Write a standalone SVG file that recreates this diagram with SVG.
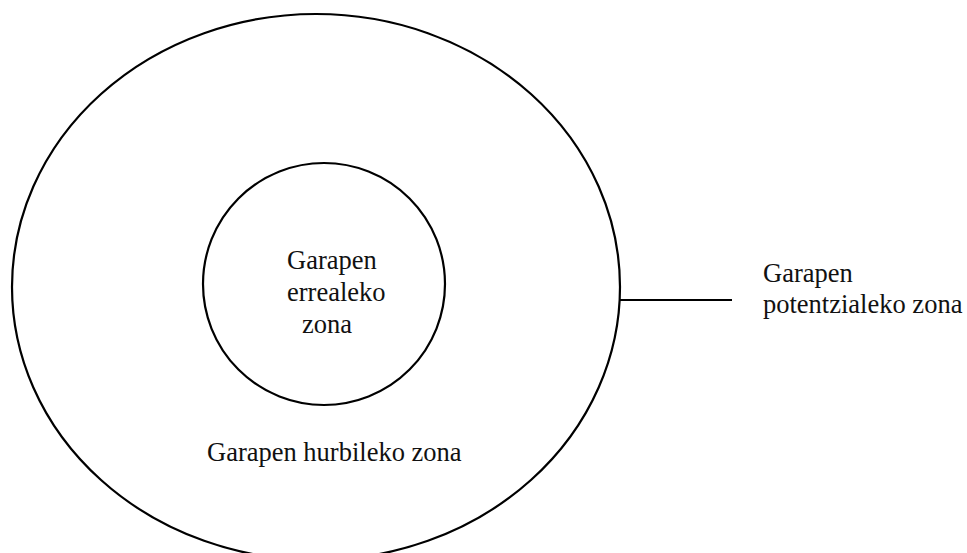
<svg xmlns="http://www.w3.org/2000/svg" width="967" height="553" viewBox="0 0 967 553">
<style>
.shape{fill:none;stroke:#000;stroke-width:2.2}
.t{font-family:"Liberation Serif","Times New Roman",serif;font-size:26.5px;fill:#111}
</style>
<rect width="967" height="553" fill="#fff"/>
<g id="outer">
<ellipse class="shape" cx="316" cy="287" rx="304" ry="273"/>
<text class="t" x="207" y="461">Garapen hurbileko zona</text>
</g>
<g id="inner">
<ellipse class="shape" cx="324" cy="284" rx="121" ry="121"/>
<text class="t" x="287" y="269">Garapen</text>
<text class="t" x="287" y="301">errealeko</text>
<text class="t" x="302" y="333">zona</text>
</g>
<g id="connectors">
<line class="shape" x1="620" y1="300" x2="732" y2="300"/>
</g>
<g id="label">
<text class="t" x="763" y="282">Garapen</text>
<text class="t" x="763" y="313">potentzialeko zona</text>
</g>
</svg>
